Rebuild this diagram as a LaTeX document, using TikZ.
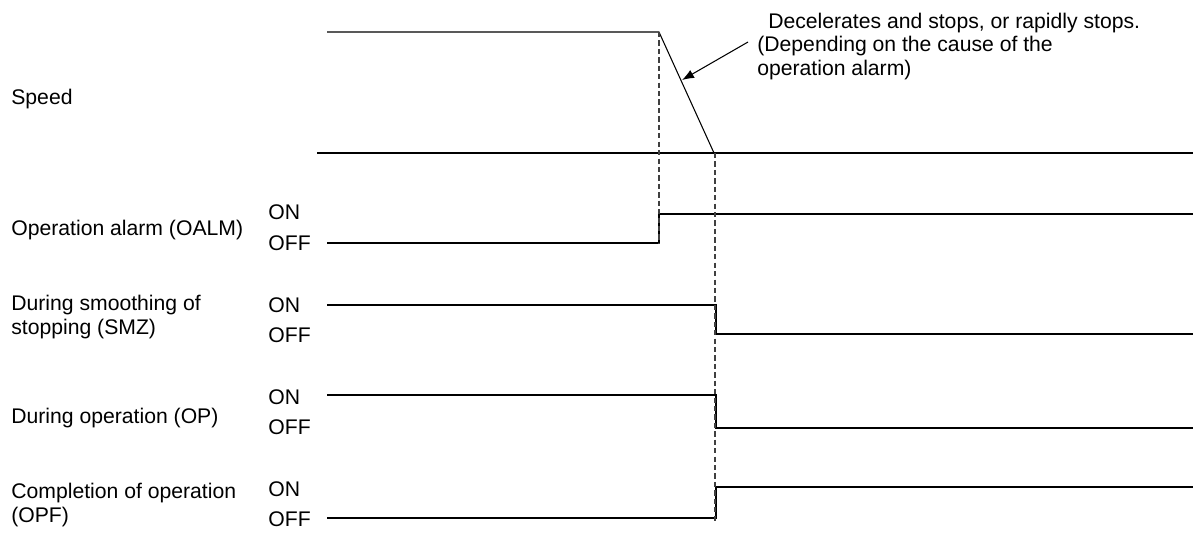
\documentclass[tikz,border=0pt]{standalone}
\usepackage{fontspec}
\setmainfont{Liberation Sans}
\usetikzlibrary{arrows.meta}

\begin{document}
\begin{tikzpicture}[
  x=0.02cm,y=-0.02cm,
  >={Latex[length=2.4mm,width=1.8mm]},
  lbl/.style={anchor=west,inner sep=0pt,align=left,font=\fontsize{12.05}{13.2}\selectfont},
  lvl/.style={anchor=west,inner sep=0pt,font=\fontsize{12.05}{13.2}\selectfont},
  sig/.style={line width=0.6pt},
  guide/.style={line width=0.6pt,black!75,dash pattern=on 3pt off 1.8pt}
]
\useasboundingbox (0,0) rectangle (1197,532);
% signal names
\node[lbl] (speed) at (11,99) {Speed};
\node[lbl] (oalm) at (11,230) {Operation alarm (OALM)};
\node[lbl] (smz) at (11,317) {During smoothing of\\stopping (SMZ)};
\node[lbl] (op) at (11,418) {During operation (OP)};
\node[lbl] (opf) at (11,505) {Completion of operation\\(OPF)};
\foreach \s/\yon/\yoff in {oalm/212/243,smz/305/335,op/397/427,opf/489/519}{
  \node[lvl] (\s-on) at (268,\yon) {ON};
  \node[lvl] (\s-off) at (268,\yoff) {OFF};
}
% speed curve
\draw[sig] (327,32) -- (659,32) -- (714,153);
\draw[sig] (317,153) -- (1193,153);
% output signals
\foreach \s/\ya/\yb/\xs in {oalm/243/214/659,smz/305/334/716,op/395/428/716,opf/518/487/716}
  \draw[sig] (327,\ya) -- (\xs,\ya) -- (\xs,\yb) -- (1193,\yb);
\draw[guide] (659,32) -- (659,243);
\draw[guide] (715,153) -- (715,524);
% note
\node[lbl,anchor=north west] (note) at (757,13) {\hspace*{6.2pt}Decelerates and stops, or rapidly stops.\\(Depending on the cause of the\\operation alarm)};
\coordinate (from) at (748,42);
\coordinate (tip) at (682,80);
\draw[->,sig] (from) -- (tip);
\end{tikzpicture}
\end{document}
